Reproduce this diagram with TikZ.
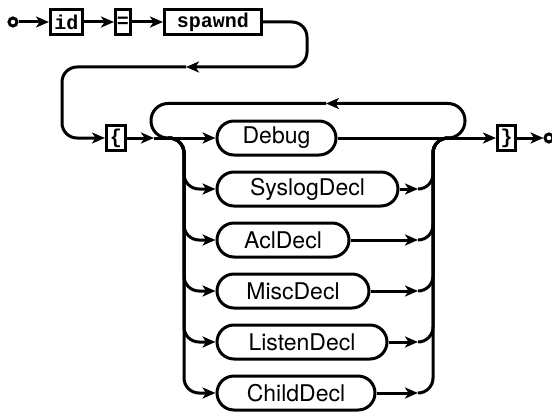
\documentclass[tikz,border=0pt]{standalone}
\usepackage{fontspec}
\setmainfont{TeX Gyre Heros}
\newfontfamily\termfont{Liberation Mono}
\usetikzlibrary{arrows.meta}
\begin{document}
\begin{tikzpicture}[x=1pt,y=-1pt,
  line width=3pt,
  arr/.style={-{Stealth[length=13pt,width=11pt,inset=3.5pt]}},
  term/.style={draw, rectangle, inner sep=0pt, minimum height=25pt,
    font=\termfont\bfseries\fontsize{20}{20}\selectfont},
  nonterm/.style={draw, rectangle, rounded corners=17pt, inner sep=0pt,
    minimum height=34pt, anchor=west, font=\fontsize{23}{23}\selectfont},
  dot/.style={draw, circle, inner sep=0pt, minimum size=8pt},
  rr/.style={rounded corners=15pt},
  loop/.style={rounded corners=17pt},
]
\useasboundingbox (0,0) rectangle (552,412);

% first line
\node[dot] (start) at (13,22) {};
\node[term, minimum width=32pt] (id) at (66.5,22) {id};
\node[term, minimum width=15pt] (eq) at (123,22) {=};
\node[term, minimum width=97pt] (spawnd) at (213,22) {spawnd};

% second line
\node[term, minimum width=19pt] (lbrace) at (116,138) {\{};
\node[term, minimum width=18pt] (rbrace) at (506.5,138) {\}};
\node[dot] (end) at (549,138) {};

\node[nonterm, minimum width=119pt] (debug)  at (215.5,138) {Debug};
\node[nonterm, minimum width=181pt] (syslog) at (215.5,189) {SyslogDecl};
\node[nonterm, minimum width=132pt] (acl)    at (215.5,240) {AclDecl};
\node[nonterm, minimum width=152pt] (misc)   at (215.5,291) {MiscDecl};
\node[nonterm, minimum width=170pt] (listen) at (215.5,342) {ListenDecl};
\node[nonterm, minimum width=158pt] (child)  at (215.5,393) {ChildDecl};

\coordinate (r1) at (186,67);
\coordinate (j1) at (154,138);
\coordinate (lp) at (326,103.5);

% connectors, first line
\draw[arr] (start) -- (id);
\draw[arr] (id) -- (eq);
\draw[arr] (eq) -- (spawnd);
\draw[rr,arr] (spawnd.east) -- (307,22) -- (307,67) -- (r1);
\draw[rr,arr] (r1) -- (62,67) -- (62,138) -- (lbrace.west);
\draw[arr] (lbrace.east) -- (j1);

% repeat loop
\draw[loop,arr] (448,138) -- (465,138) -- (465,103.5) -- (lp);
\draw[loop] (lp) -- (151,103.5) -- (151,138) -- (172,138);

% main choice
\draw[arr] (j1) -- (debug.west);
\draw[arr] (debug.east) -- (rbrace.west);
\draw[arr] (rbrace.east) -- (end.west);

% other branches
\foreach \n/\y in {syslog/189, acl/240, misc/291, listen/342, child/393}{
  \draw[rr,arr] (168,138) -- (184,138) -- (184,\y) -- (\n.west);
  \draw[arr] (\n.east) -- (418,\y);
  \draw[rr] (418,\y) -- (433,\y) -- (433,138) -- (449,138);
}
\end{tikzpicture}
\end{document}
